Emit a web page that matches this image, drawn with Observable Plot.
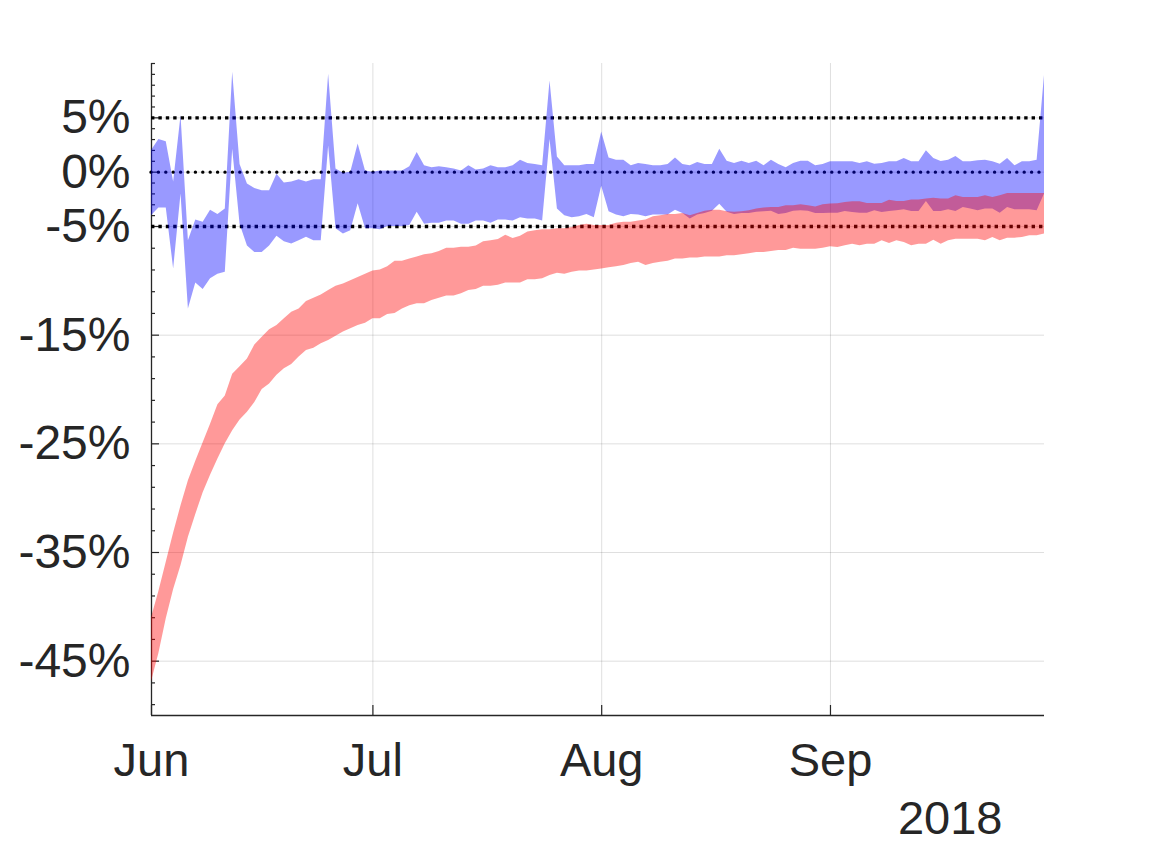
<!DOCTYPE html>
<html>
<head>
<meta charset="utf-8">
<script src="https://cdn.jsdelivr.net/npm/d3@7"></script>
<script src="https://cdn.jsdelivr.net/npm/@observablehq/plot@0.6"></script>
<style>
  html, body { margin: 0; padding: 0; background: #fff; }
  #chart { width: 1154px; height: 844px; }
</style>
</head>
<body>
<div id="chart"></div>
<script>
// Daily values, 2018-06-01 .. 2018-09-30 (122 days), in percent
const startDate = "2018-06-01";
const nDays = 122;

const blueUpper = [
  2.0, 3.0, 2.8, -0.9, 5.2, -6.3, -4.4, -4.6, -3.5, -3.9,
  -3.4, 9.2, 0.7, -1.1, -1.5, -1.7, -1.7, -0.2, -1.0, -0.9,
  -0.7, -0.9, -0.7, -0.7, 9.0, 0.3, -0.1, 0.0, 2.6, 0.1,
  0.0, 0.1, 0.1, 0.1, 0.1, 0.5, 1.8, 0.6, 0.4, 0.5,
  0.4, 0.3, 0.1, 0.6, 0.2, 0.3, 0.6, 0.4, 0.4, 0.6,
  1.1, 0.8, 0.7, 0.6, 8.4, 1.4, 0.6, 0.6, 0.6, 0.7,
  0.7, 3.7, 1.3, 1.1, 1.1, 0.6, 0.8, 0.7, 0.6, 0.6,
  0.7, 1.3, 0.7, 0.6, 0.9, 0.7, 0.7, 2.1, 1.0, 0.8,
  1.0, 0.8, 1.0, 0.6, 1.1, 0.7, 0.4, 0.8, 1.0, 1.0,
  0.6, 0.7, 0.95, 0.95, 0.95, 0.95, 0.8, 0.95, 0.74, 0.8,
  0.95, 0.95, 1.26, 0.95, 0.95, 1.96, 1.26, 0.98, 1.1, 1.44,
  0.95, 0.95, 1.04, 1.1, 0.95, 0.74, 1.26, 0.58, 0.95, 0.95,
  1.1, 8.9
];

const blueLower = [
  -4.0, -3.3, -3.3, -8.9, -2.0, -12.6, -10.2, -10.8, -9.8, -9.4,
  -9.2, 2.1, -4.8, -6.8, -7.4, -7.4, -6.8, -5.9, -6.4, -6.6,
  -6.3, -6.0, -6.3, -6.3, 2.4, -5.2, -5.7, -5.4, -2.9, -5.2,
  -5.2, -5.3, -5.0, -5.0, -5.0, -4.9, -3.7, -4.8, -4.7, -4.7,
  -4.5, -4.5, -4.8, -4.8, -4.5, -4.5, -4.7, -4.4, -4.4, -4.5,
  -4.2, -4.3, -4.3, -4.5, 3.0, -3.4, -4.0, -4.2, -4.1, -3.9,
  -4.2, -1.3, -3.65, -3.95, -4.1, -3.9, -3.95, -4.1, -3.95, -3.95,
  -3.95, -3.5, -3.8, -4.3, -3.95, -3.8, -3.6, -2.95, -3.7, -3.9,
  -3.8, -3.8, -3.7, -3.65, -3.6, -3.9, -3.8, -3.6, -3.55, -3.6,
  -3.8, -3.8, -3.77, -3.77, -3.62, -3.71, -3.77, -3.77, -3.56, -3.71,
  -3.62, -3.56, -3.47, -3.62, -3.62, -2.7, -3.62, -3.62, -3.47, -3.62,
  -3.25, -3.4, -3.56, -3.4, -3.4, -3.77, -3.25, -3.47, -3.47, -3.47,
  -3.56, -2.0
];

const redUpper = [
  -41.0, -38.6, -35.9, -33.2, -30.7, -28.4, -26.6, -24.9, -23.2, -21.4,
  -20.6, -18.6, -17.9, -17.2, -15.9, -15.2, -14.5, -14.1, -13.5, -12.9,
  -12.6, -11.9, -11.6, -11.3, -10.9, -10.5, -10.3, -10.0, -9.7, -9.4,
  -9.1, -9.0, -8.7, -8.2, -8.2, -8.0, -7.8, -7.6, -7.5, -7.3,
  -7.0, -7.0, -6.9, -6.9, -6.8, -6.4, -6.3, -6.2, -5.8, -6.1,
  -5.9, -5.5, -5.4, -5.3, -5.3, -5.2, -5.2, -5.1, -4.9, -4.8,
  -4.9, -4.9, -4.9, -4.7, -4.6, -4.6, -4.5, -4.4, -4.1, -4.0,
  -3.9, -3.9, -3.8, -4.0, -3.8, -3.6, -3.5, -3.5, -3.65, -3.7,
  -3.65, -3.55, -3.4, -3.3, -3.25, -3.25, -3.1, -3.1, -3.0, -3.1,
  -3.2, -3.0, -2.94, -2.9, -2.79, -2.73, -2.73, -2.88, -2.88, -2.88,
  -2.58, -2.7, -2.7, -2.55, -2.55, -2.48, -2.39, -2.48, -2.48, -2.18,
  -2.33, -2.33, -2.33, -2.18, -2.33, -2.18, -1.96, -1.96, -1.96, -1.96,
  -1.96, -1.96
];

const redLower = [
  -46.9, -44.3, -41.1, -38.4, -36.2, -33.6, -31.5, -29.5, -27.9, -26.4,
  -25.0, -23.8, -22.8, -22.1, -21.2, -20.0, -19.5, -18.7, -18.1, -17.7,
  -17.0, -16.4, -16.2, -15.8, -15.5, -15.1, -14.7, -14.4, -14.1, -13.9,
  -13.5, -13.5, -13.1, -13.0, -12.6, -12.3, -12.1, -12.1, -11.8, -11.6,
  -11.4, -11.4, -11.2, -10.9, -10.8, -10.5, -10.5, -10.4, -10.2, -10.2,
  -10.2, -9.9, -9.9, -9.8, -9.5, -9.3, -9.4, -9.2, -9.1, -9.1,
  -9.0, -8.9, -8.8, -8.7, -8.6, -8.4, -8.3, -8.6, -8.4, -8.3,
  -8.2, -8.0, -8.0, -7.9, -7.9, -7.8, -7.8, -7.8, -7.7, -7.7,
  -7.6, -7.5, -7.4, -7.4, -7.3, -7.2, -7.2, -7.0, -7.1, -7.1,
  -7.1, -7.0, -6.87, -6.93, -6.78, -6.63, -6.78, -6.63, -6.63, -6.32,
  -6.56, -6.32, -6.47, -6.78, -6.63, -6.63, -6.26, -6.63, -6.32, -6.17,
  -6.17, -6.17, -6.17, -6.32, -6.01, -6.32, -6.07, -6.07, -6.01, -5.86,
  -5.86, -5.7
];

// Axis ticks
const monthTicks = ["2018-06-01", "2018-07-01", "2018-08-01", "2018-09-01"];
const gridMonths = ["2018-07-01", "2018-08-01", "2018-09-01"];
const yTickLabels = [5, 0, -5, -15, -25, -35, -45];
const yMinorTicks = [-49, -47, -43, -41, -39, -37, -33, -31, -29, -27, -23, -21, -19, -17, -13, -11, -9, -7,
  -4, -3, -2, -1, 1, 2, 3, 4, 6, 7, 8, 9, 10];
const dottedLines = [5, -5];
const zeroLine = [0];
const yearLabel = ["2018"];

const parse = d3.utcParse("%Y-%m-%d");
const t0 = parse(startDate);
const days = d3.range(nDays).map(i => d3.utcDay.offset(t0, i));
const data = days.map((d, i) => ({
  date: d, bU: blueUpper[i], bL: blueLower[i], rU: redUpper[i], rL: redLower[i]
}));
const months = monthTicks.map(parse);
const gridM = gridMonths.map(parse);

const W = 1154, H = 844;
const mL = 151, mR = 110, mT = 63, mB = 129;
const plotW = W - mL - mR, plotH = H - mT - mB;
const ink = "#262626";
const font = "'Liberation Sans', Arial, Helvetica, sans-serif";

const chart = Plot.plot({
  width: W,
  height: H,
  marginLeft: mL,
  marginRight: mR,
  marginTop: mT,
  marginBottom: mB,
  style: { fontFamily: font, color: ink, background: "#fff", overflow: "visible" },
  x: { type: "utc", domain: [days[0], days[nDays - 1]] },
  y: { domain: [-50, 10] },
  marks: [
    // grid
    Plot.ruleY(yTickLabels, { y: d => d, stroke: ink, strokeOpacity: 0.15, strokeWidth: 1 }),
    Plot.ruleX(gridM, { x: d => d, stroke: ink, strokeOpacity: 0.15, strokeWidth: 1 }),
    // axis lines
    Plot.ruleX([days[0]], { x: d => d, stroke: ink, strokeWidth: 1.3 }),
    Plot.ruleY([-50], { y: d => d, stroke: ink, strokeWidth: 1.3 }),
    // inward ticks
    Plot.tickY(yTickLabels, { y: d => d, stroke: ink, strokeWidth: 1.2, insetRight: plotW - 8 }),
    Plot.tickY(yMinorTicks, { y: d => d, stroke: ink, strokeWidth: 1.2, insetRight: plotW - 4 }),
    Plot.tickX(months, { x: d => d, stroke: ink, strokeWidth: 1.2, insetTop: plotH - 10 }),
    // dotted reference lines
    Plot.ruleY(dottedLines, { y: d => d, stroke: "#000", strokeWidth: 3.4, strokeDasharray: "3.4 4.0" }),
    Plot.ruleY(zeroLine, { y: d => d, stroke: "#000", strokeWidth: 3.4, strokeDasharray: "0 7.4", strokeLinecap: "round" }),
    // bands
    Plot.areaY(data, { x: "date", y1: "bL", y2: "bU", fill: "blue", fillOpacity: 0.4 }),
    Plot.areaY(data, { x: "date", y1: "rL", y2: "rU", fill: "red", fillOpacity: 0.4 }),
    // axes text
    Plot.axisY(yTickLabels, {
      anchor: "left", tickSize: 0, tickPadding: 21, fontSize: 48,
      tickFormat: d => `${d}%`, fill: ink
    }),
    Plot.axisX(months, {
      anchor: "bottom", tickSize: 0, tickPadding: 27, fontSize: 47,
      tickFormat: d3.utcFormat("%b"), fill: ink
    }),
    Plot.text(yearLabel, {
      text: d => d, frameAnchor: "bottom-right", textAnchor: "end", lineAnchor: "top",
      dx: -42, dy: 85, fontSize: 47, fill: ink
    })
  ]
});

document.getElementById("chart").appendChild(chart);
</script>
</body>
</html>
